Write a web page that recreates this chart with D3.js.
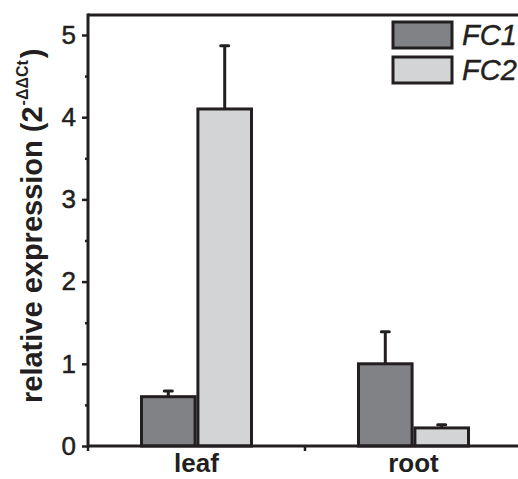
<!DOCTYPE html>
<html><head><meta charset="utf-8">
<script src="https://cdn.jsdelivr.net/npm/d3@7"></script>
<style>body{margin:0;background:#fff}svg{display:block}text{font-family:"Liberation Sans",Arial,sans-serif}</style>
</head><body><svg id="c" width="518" height="479"></svg>
<script>
const categories = ["leaf", "root"];
const series = ["FC1", "FC2"];
const fc1Values = [0.60, 1.00];
const fc1Errors = [0.07, 0.39];
const fc2Values = [4.10, 0.22];
const fc2Errors = [0.77, 0.04];
const yTicks = [0, 1, 2, 3, 4, 5];
const yMinorTicks = [0.5, 1.5, 2.5, 3.5, 4.5];
const colors = ["#808285", "#d3d4d6"];
const stroke = "#231f20";

const svg = d3.select("#c");
const mLeft = 88, mRight = 522, mTop = 15, mBottom = 446;
const x = d3.scaleBand().domain(categories).range([mLeft, mRight]).paddingInner(0).paddingOuter(0);
const xs = d3.scaleBand().domain(series).range([0, 110]).paddingInner(0.05);
const y = d3.scaleLinear().domain([0, 5]).range([mBottom, 35]);

const g = svg.append("g");
const data = [];
categories.forEach((c, i) => {
  data.push({c, s: "FC1", v: fc1Values[i], e: fc1Errors[i], col: colors[0]});
  data.push({c, s: "FC2", v: fc2Values[i], e: fc2Errors[i], col: colors[1]});
});
const off = (x.bandwidth() - 110) / 2;

// error bars
data.forEach(d => {
  const cx = x(d.c) + off + xs(d.s) + xs.bandwidth() / 2;
  g.append("line").attr("x1", cx).attr("x2", cx).attr("y1", y(d.v)).attr("y2", y(d.v + d.e))
    .attr("stroke", stroke).attr("stroke-width", 3);
  g.append("line").attr("x1", cx - 4).attr("x2", cx + 4).attr("y1", y(d.v + d.e)).attr("y2", y(d.v + d.e))
    .attr("stroke", stroke).attr("stroke-width", 3).attr("stroke-linecap", "round");
});
// bars
g.selectAll("rect.bar").data(data).join("rect").attr("class", "bar")
  .attr("x", d => x(d.c) + off + xs(d.s))
  .attr("width", xs.bandwidth())
  .attr("y", d => y(d.v))
  .attr("height", d => y(0) - y(d.v))
  .attr("fill", d => d.col).attr("stroke", stroke).attr("stroke-width", 3);

// axes
const ya = svg.append("g").attr("transform", `translate(${mLeft},0)`)
  .call(d3.axisLeft(y).tickValues(yTicks).tickSize(6).tickPadding(6).tickFormat(d3.format("d")));
ya.select(".domain").remove();
ya.selectAll(".tick line").attr("stroke", stroke).attr("stroke-width", 2.5);
ya.selectAll(".tick text").attr("font-size", 26).attr("fill", stroke).attr("stroke", stroke).attr("stroke-width", 0.5).attr("font-family", "Liberation Sans, Arial");
const ym = svg.append("g").attr("transform", `translate(${mLeft},0)`)
  .call(d3.axisLeft(y).tickValues(yMinorTicks).tickSize(3).tickFormat(""));
ym.select(".domain").remove();
ym.selectAll(".tick line").attr("stroke", stroke).attr("stroke-width", 2.5);

const xa = svg.append("g").attr("transform", `translate(0,${mBottom})`)
  .call(d3.axisBottom(x).tickSize(0).tickPadding(8));
xa.select(".domain").remove();
xa.selectAll(".tick text").attr("font-size", 26).attr("font-weight", "bold").attr("fill", stroke).attr("font-family", "Liberation Sans, Arial");
// boundary ticks of categories
svg.append("g").selectAll("line").data([x(categories[0]), x(categories[1])]).join("line")
  .attr("x1", d => d).attr("x2", d => d).attr("y1", mBottom).attr("y2", mBottom + 5)
  .attr("stroke", stroke).attr("stroke-width", 2.5);

// frame lines
svg.append("line").attr("x1", mLeft).attr("x2", 518).attr("y1", mBottom).attr("y2", mBottom).attr("stroke", stroke).attr("stroke-width", 3);
svg.append("line").attr("x1", mLeft).attr("x2", 518).attr("y1", mTop).attr("y2", mTop).attr("stroke", stroke).attr("stroke-width", 3);
svg.append("line").attr("x1", mLeft).attr("x2", mLeft).attr("y1", mTop - 1.5).attr("y2", mBottom + 1.5).attr("stroke", stroke).attr("stroke-width", 3);

// y title
const t = svg.append("text").attr("transform", "translate(42,403) rotate(-90)")
  .attr("text-anchor", "start").attr("font-size", 29).attr("font-weight", "bold").attr("fill", stroke);
t.append("tspan").text("relative expression (2");
t.append("tspan").attr("font-size", 16).attr("dy", -14).attr("dx", 1).text("-ΔΔCt");
t.append("tspan").attr("dy", 14).attr("dx", 2).text(")");

// legend
series.forEach((s, i) => {
  const ly = 22 + i * 35;
  svg.append("rect").attr("x", 393).attr("y", ly).attr("width", 59).attr("height", 26)
    .attr("fill", colors[i]).attr("stroke", stroke).attr("stroke-width", 3);
  svg.append("text").attr("x", 462).attr("y", ly + 23).attr("font-size", 29).attr("font-style", "italic")
    .attr("fill", stroke).attr("stroke", stroke).attr("stroke-width", 0.4).text(s);
});
</script></body></html>
